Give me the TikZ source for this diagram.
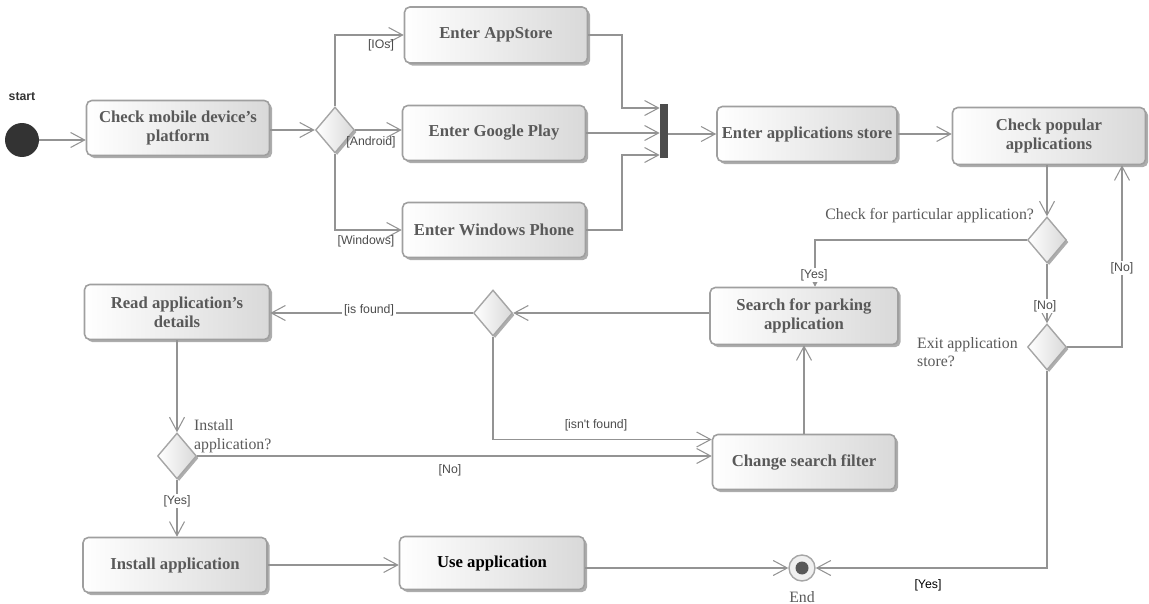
\documentclass[tikz,border=0pt]{standalone}
\usepackage{fontspec}
\setmainfont{Liberation Serif}
\newfontfamily\lsans{Liberation Sans}
\usetikzlibrary{arrows.meta,shapes.geometric,shadows,calc}
\begin{document}
\begin{tikzpicture}[x=0.02cm,y=-0.02cm,
 act/.style={draw=gray!75, line width=0.9pt, rounded corners=3pt, left color=white, right color=gray!30,
   minimum width=3.66cm, minimum height=1.1cm, align=center, text=black!65,
   font=\fontsize{9.5}{11}\selectfont\bfseries, inner sep=2pt,
   drop shadow={shadow xshift=1.5pt, shadow yshift=-1.5pt, fill=gray!80, opacity=0.8}},
 dec/.style={diamond, draw=gray!70, line width=0.8pt, left color=white, right color=gray!30,
   minimum width=0.78cm, minimum height=0.92cm, inner sep=0pt,
   drop shadow={shadow xshift=1.2pt, shadow yshift=-1.2pt, fill=gray!80, opacity=0.8}},
 flow/.style={draw=gray!85, line width=0.6pt, -{Straight Barb[length=2.8mm,width=3mm]}},
 guard/.style={font=\lsans\fontsize{7}{8}\selectfont, text=black!70, inner sep=1pt},
 note/.style={font=\fontsize{9}{10.5}\selectfont, text=black!65, inner sep=1pt, align=left},
]
\useasboundingbox (0,0) rectangle (1149,604);

% nodes
\node[circle, fill=black!80, minimum size=0.68cm, inner sep=0pt] (start) at (22,140) {};
\node[font=\lsans\bfseries\fontsize{7}{8}\selectfont, text=black!80] (startlbl) at (22,97) {start};
\node[act] (check) at (178,128) {Check mobile device's\\platform};
\node[dec] (d1) at (335,130) {};
\node[act, minimum height=1.12cm] (appstore) at (496,35) {Enter AppStore};
\node[act] (google) at (494,133) {Enter Google Play};
\node[act] (windows) at (494,230) {Enter Windows Phone};
\node[fill=black!70, minimum width=0.16cm, minimum height=1.1cm, inner sep=0pt] (bar) at (664,131) {};
\node[act, minimum width=3.6cm] (store) at (807,134) {Enter applications store};
\node[act, minimum width=3.86cm, minimum height=1.14cm] (popular) at (1049,136) {Check popular\\applications};
\node[dec] (d2) at (1047,240) {};
\node[dec] (d3) at (1047,347) {};
\node[act, minimum width=3.76cm, minimum height=1.14cm] (search) at (804,316) {Search for parking\\application};
\node[dec] (d4) at (493,313) {};
\node[act, minimum width=3.7cm] (read) at (177,312) {Read application's\\details};
\node[act] (change) at (804,462) {Change search filter};
\node[dec] (d5) at (177,456) {};
\node[act, minimum width=3.68cm] (install) at (175,565) {Install application};
\node[act, minimum width=3.7cm, minimum height=1.06cm, text=black] (use) at (492,563) {Use application};
\node[circle, draw=gray!70, line width=0.8pt, fill=gray!12, minimum size=0.52cm, inner sep=0pt] (end) at (802,568) {};
\node[circle, fill=black!65, minimum size=0.26cm, inner sep=0pt] (endin) at (end) {};
\node[note] (endlbl) at (802,597) {End};

% notes
\node[note, anchor=east] (n2) at (1036,216) {Check for particular application?};
\node[note, anchor=west] (n3) at (915,352) {Exit application\\store?};
\node[note, anchor=west] (n5) at (192,436) {Install\\application?};

% connectors
\coordinate (j1) at (622,108);
\coordinate (j2) at (622,155);
\draw[flow] (start.east) -- (start.east -| check.west);
\draw[flow] (check.east |- d1.west) -- (d1.west);
\draw[flow] (d1.north) |- (appstore.west);
\draw[flow] (d1.east) -- (d1.east -| google.west);
\draw[flow] (d1.south) |- (windows.west);
\draw[flow] (appstore.east) -| (j1) -- (j1 -| bar.west);
\draw[flow] (google.east) -- (google.east -| bar.west);
\draw[flow] (windows.east) -| (j2) -- (j2 -| bar.west);
\draw[flow] (bar.east |- store.west) -- (store.west);
\draw[flow] (store.east) -- (store.east -| popular.west);
\draw[flow] (d2.north |- popular.south) -- (d2.north);
\draw[flow] (d2.west) -| ([xshift=0.22cm]search.north);
\draw[flow] (d2.south) -- (d3.north);
\draw[flow] (d3.east) -| ([xshift=1.46cm]popular.south);
\draw[flow] (d3.south) |- (end.east);
\draw[flow] (d4.east -| search.west) -- (d4.east);
\draw[flow] (d4.west) -- (d4.west -| read.east);
\draw[flow] (d4.south) |- ([yshift=0.45cm]change.west);
\draw[flow] (change.north) -- (search.south);
\draw[flow] (read.south) -- (d5.north);
\draw[flow] (d5.east) -- (d5.east -| change.west);
\draw[flow] (d5.south) -- (d5.south |- install.north);
\draw[flow] (install.east) -- (install.east -| use.west);
\draw[flow] (end.west -| use.east) -- (end.west);

% guards
\node[guard] (gios) at (381,45) {[IOs]};
\node[guard] (gand) at (371,142) {[Android]};
\node[guard] (gwin) at (366,241) {[Windows]};
\node[guard, fill=white] (gyes1) at (814,275) {[Yes]};
\node[guard, fill=white] (gno1) at (1045,306) {[No]};
\node[guard, fill=white] (gno2) at (1122,268) {[No]};
\node[guard, fill=white] (gfound) at (369,310) {[is found]};
\node[guard] (gnfound) at (596,425) {[isn't found]};
\node[guard] (gno3) at (450,470) {[No]};
\node[guard, fill=white] (gyes2) at (177,501) {[Yes]};
\node[guard, text=black] (gyes3) at (928,585) {[Yes]};
\end{tikzpicture}
\end{document}
